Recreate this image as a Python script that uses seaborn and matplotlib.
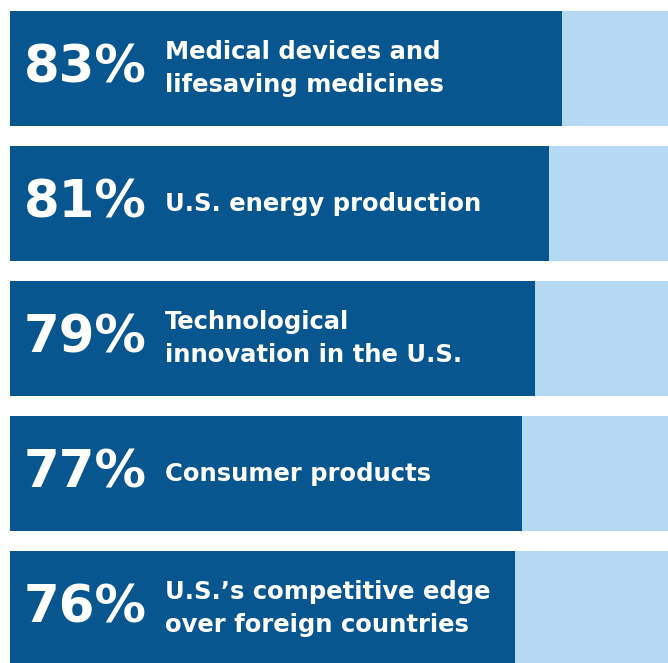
import matplotlib
matplotlib.use("Agg")
import matplotlib.pyplot as plt
import pandas as pd
import seaborn as sns

# Share of respondents per area
labels = [
    "Medical devices and\nlifesaving medicines",
    "U.S. energy production",
    "Technological\ninnovation in the U.S.",
    "Consumer products",
    "U.S.\u2019s competitive edge\nover foreign countries",
]
values = [83, 81, 79, 77, 76]

dark = "#08568F"
light = "#B5D9F2"

df = pd.DataFrame({"label": labels, "value": values, "full": [100] * len(values)})

sns.set_style("white")
plt.rcParams["font.family"] = ["DejaVu Sans"]

fig = plt.figure(figsize=(6.68, 6.63), dpi=100)
# axes runs a bit past the right edge so the light bars look cropped
ax = fig.add_axes([10 / 668, 0, 665 / 668, 1])

sns.barplot(data=df, x="full", y="label", orient="h", color=light,
            width=115 / 135, saturation=1, linewidth=0, ax=ax)
sns.barplot(data=df, x="value", y="label", orient="h", color=dark,
            width=115 / 135, saturation=1, linewidth=0, ax=ax)

for i, (lab, v) in enumerate(zip(labels, values)):
    ax.text(2.1, i, f"{v}%", color="white", fontsize=37, fontweight="bold",
            va="center", ha="left")
    ax.text(23.3, i, lab, color="white", fontsize=17.5, fontweight="bold",
            va="center", ha="left", linespacing=1.5)

ax.set_xlim(0, 100)
ax.set_ylim((663 - 68.5) / 135, -68.5 / 135)
ax.set_axis_off()

fig.savefig("out.png", dpi=100)
